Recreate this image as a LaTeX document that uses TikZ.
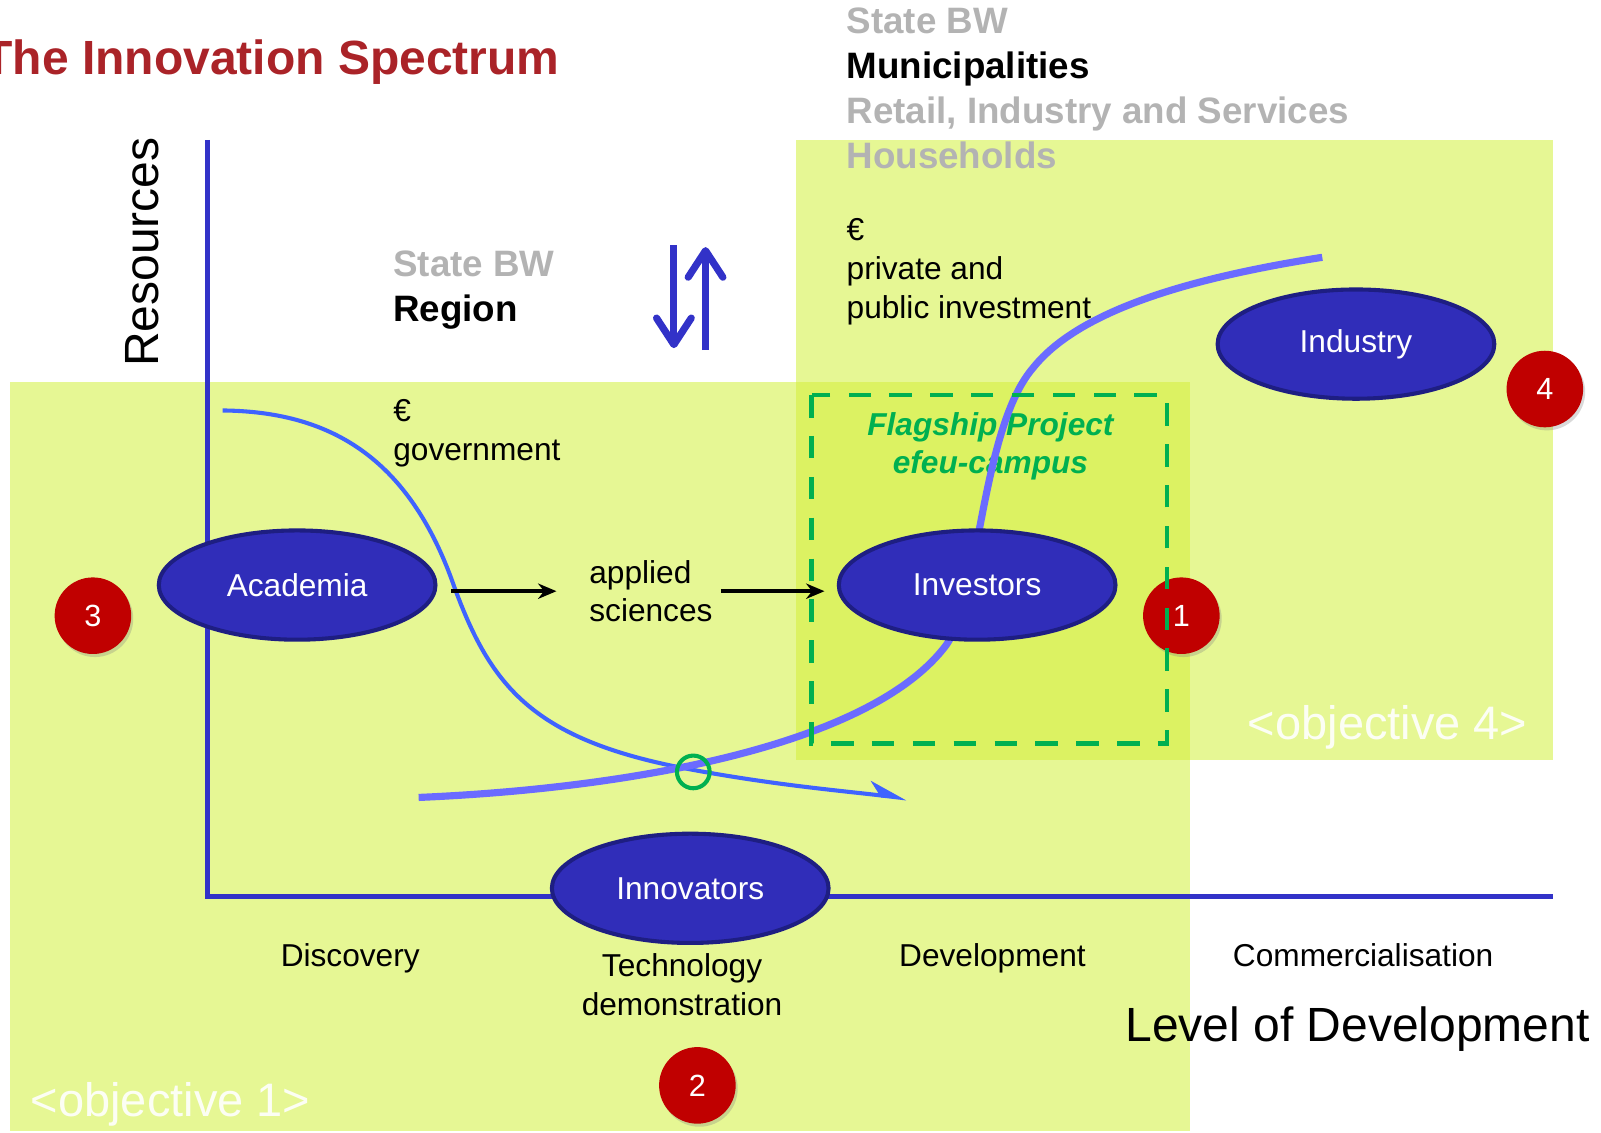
\documentclass[tikz,border=0pt]{standalone}
\usepackage{fontspec}
\setmainfont{Liberation Sans}
\usetikzlibrary{shapes.geometric,arrows.meta,shadows}
\definecolor{lightlime}{HTML}{E6F794}
\definecolor{darklime}{HTML}{DCF262}
\definecolor{axisblue}{HTML}{3232C8}
\definecolor{ellfill}{HTML}{302DB9}
\definecolor{elldraw}{HTML}{1E1E82}
\definecolor{curveA}{HTML}{3F63FF}
\definecolor{curveB}{HTML}{6B6BFF}
\definecolor{flaggreen}{HTML}{00B050}
\definecolor{badgered}{HTML}{C00000}
\definecolor{titlered}{HTML}{AA2328}
\definecolor{softgray}{HTML}{B3B3B3}
\newcommand{\myfs}[2]{\fontsize{#1}{#2}\selectfont}
\begin{document}
\begin{tikzpicture}[x=1pt,y=-1pt,
  actor/.style={ellipse, draw=elldraw, line width=4pt, fill=ellfill, text=white,
    minimum width=271pt, minimum height=107pt, inner sep=0pt, font=\myfs{31}{38}},
  badge/.style={circle, fill=badgered, minimum size=75pt, inner sep=0pt, text=white,
    font=\myfs{30}{36}, drop shadow={shadow xshift=2pt, shadow yshift=-3pt, opacity=0.3}},
  boldlabel/.style={anchor=base west, inner sep=0pt, font=\bfseries\myfs{36}{44}},
  txt/.style={inner sep=0pt, font=\myfs{31}{38}, align=left},
  axislabel/.style={anchor=base, inner sep=0pt, font=\myfs{31}{38}},
  biglabel/.style={inner sep=0pt, font=\myfs{47}{56}},
  objlabel/.style={anchor=base west, inner sep=0pt, font=\myfs{46}{56}, text=white, text opacity=0.9},
  axisline/.style={draw=axisblue, line width=5pt},
  blackarrow/.style={draw=black, line width=4pt, -{Stealth[length=18pt,width=15pt]}},
  bluearrow/.style={draw=axisblue, line width=7pt, -{Straight Barb[length=26pt,width=34pt,round]}},
  flagbox/.style={draw=flaggreen, line width=4.5pt, dash pattern=on 22pt off 18pt},
  flagtext/.style={inner sep=0pt, text=flaggreen, font=\bfseries\itshape\myfs{31}{37}, align=center}
]
\useasboundingbox (0,0) rectangle (1568,1109);
% background fields
\fill[lightlime] (780,137) rectangle (1521,744);
\fill[lightlime] (10,374) rectangle (1165,1108);
\fill[darklime] (780,374) rectangle (1165,744);

% title and stakeholder labels
\node[anchor=base east, inner sep=0pt, text=titlered, font=\bfseries\myfs{47}{56}] (title) at (548,73) {The Innovation Spectrum};
\node[boldlabel, text=softgray] (tstate) at (829,33) {State BW};
\node[boldlabel, text=black] (tmuni) at (829,77) {Municipalities};
\node[boldlabel, text=softgray] (tretail) at (829,121) {Retail, Industry and Services};
\node[boldlabel, text=softgray] (thouse) at (829,165) {Households};
\node[boldlabel, text=softgray] (lstate) at (385,271) {State BW};
\node[boldlabel, text=black] (lregion) at (385,315) {Region};
\node[txt, anchor=west] (privinv) at (829,266) {€\\private and\\public investment};
\node[txt, anchor=west] (gov) at (385,424) {€\\government};

% axes
\draw[axisline] (203,137) -- (203,878) -- (1521,878);
\node[biglabel, rotate=90, anchor=base] (resources) at (155,247) {Resources};
\node[biglabel, anchor=base west] (level) at (1102,1020) {Level of Development};
\node[axislabel] (disc) at (343,947) {Discovery};
\node[txt, align=center, anchor=center] (techdemo) at (668,964) {Technology\\demonstration};
\node[axislabel] (devel) at (972,947) {Development};
\node[axislabel] (comm) at (1335,947) {Commercialisation};

% flagship text
\node[flagtext] (flag) at (970,437) {Flagship Project\\efeu-campus};

% curves
\draw[curveA, line width=4pt, -{Stealth[harpoon,length=32pt,width=26pt]}]
  (218,402) .. controls (320,403) and (400,445) .. (445,575)
  .. controls (480,670) and (520,722) .. (663,751)
  .. controls (750,768) and (820,774) .. (888,782);
\draw[curveB, line width=7pt]
  (410,781) .. controls (620,772) and (850,730) .. (925,634)
  .. controls (960,590) and (960,420) .. (1012,360)
  .. controls (1060,300) and (1180,270) .. (1295,252);
\draw[flaggreen, line width=4pt] (679,756) circle (16);

% actors
\node[actor] (acad) at (291,573) {Academia};
\node[actor] (inv) at (957,573) {Investors};
\node[actor] (ind) at (1328,337) {Industry};
\node[actor] (innov) at (676,870) {Innovators};

% badges
\node[badge] (b3) at (91,603) {3};
\node[badge] (b1) at (1157,603) {1};
\node[badge] (b4) at (1513,381) {4};
\node[badge] (b2) at (683,1063) {2};

% flagship box
\draw[flagbox] (795,387) rectangle (1143,728);

% applied sciences and flow arrows
\node[txt, anchor=west] (applied) at (577,579) {applied\\sciences};
\draw[blackarrow, shorten <=13pt, shorten >=32pt] (acad.east |- applied.west) -- (applied.west);
\draw[blackarrow, shorten <=8pt, shorten >=12pt] (applied.east) -- (inv.west |- applied.east);

% up/down arrows
\coordinate (dtop) at (660,240);
\coordinate (dbot) at (660,341);
\coordinate (ubot) at (691,343);
\coordinate (utop) at (691,242);
\draw[bluearrow] (dtop) -- (dbot);
\draw[bluearrow] (ubot) -- (utop);

% objective labels
\node[objlabel] (obj1) at (30,1093) {<objective 1>};
\node[objlabel] (obj4) at (1222,724) {<objective 4>};
\end{tikzpicture}
\end{document}
